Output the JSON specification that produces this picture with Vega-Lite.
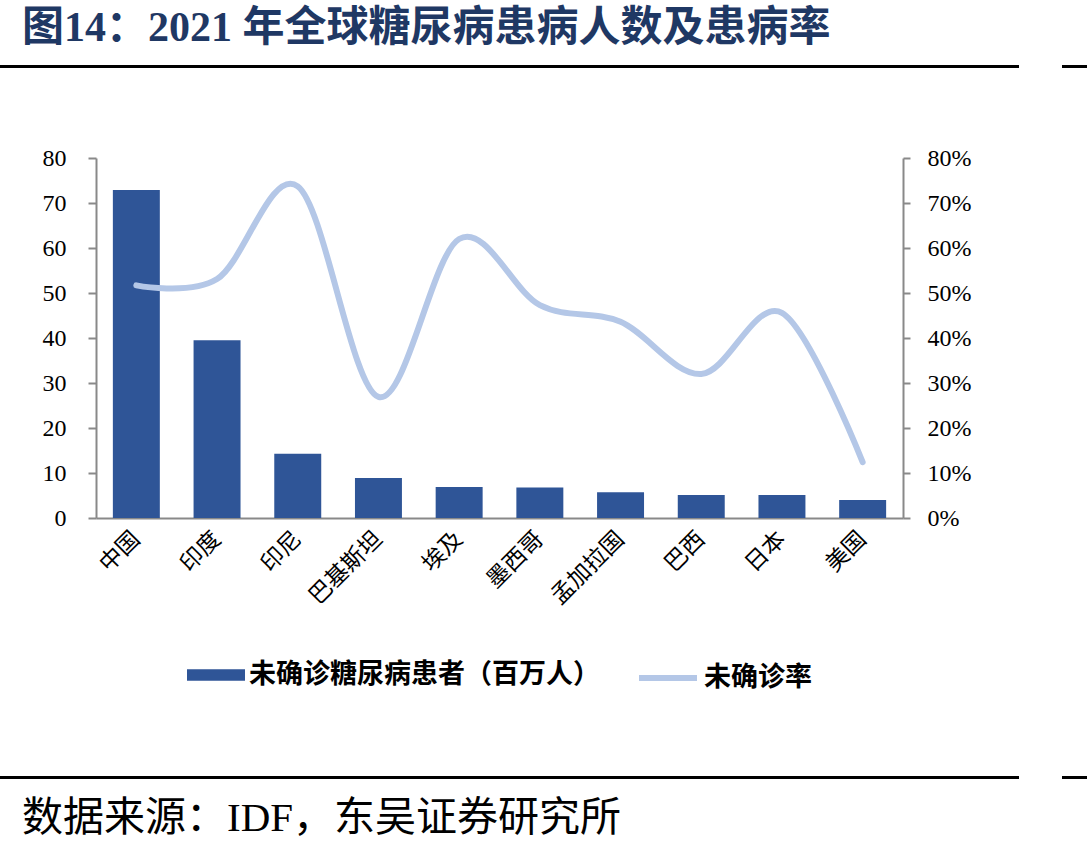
{
  "$schema": "https://vega.github.io/schema/vega-lite/v6.json",
  "background": "white",
  "padding": {"left": 0, "top": 6, "right": 0, "bottom": 0},
  "spacing": 73,
  "resolve": {"scale": {"color": "independent", "stroke": "independent"}},
  "config": {
    "view": {"stroke": null},
    "font": "Liberation Serif, Noto Sans CJK SC",
    "legend": {"layout": {"bottom": {"anchor": "middle", "direction": "horizontal", "margin": 36}}}
  },
  "vconcat": [
    {
      "title": {
        "text": "图14：2021 年全球糖尿病患病人数及患病率",
        "anchor": "start",
        "dx": 22,
        "font": "Liberation Serif, Noto Sans CJK SC",
        "fontSize": 42,
        "fontWeight": "bold",
        "color": "#1F3864",
        "offset": 10
      },
      "spacing": 43,
      "hconcat": [
        {
          "width": 1017,
          "height": 1,
          "view": {"stroke": "black", "strokeWidth": 2},
          "data": {"values": [{}]},
          "mark": {"type": "text", "text": ""},
          "encoding": {}
        },
        {
          "width": 27,
          "height": 1,
          "view": {"stroke": "black", "strokeWidth": 2},
          "data": {"values": [{}]},
          "mark": {"type": "text", "text": ""},
          "encoding": {}
        }
      ]
    },
    {
      "spacing": 0,
      "resolve": {"scale": {"color": "independent", "stroke": "independent"}},
      "hconcat": [
        {
          "width": 41,
          "height": 539,
          "data": {"values": [{}]},
          "mark": {"type": "text", "text": ""},
          "encoding": {}
        },
        {
          "width": 807,
          "height": 360,
          "data": {
            "values": [
              {"国家": "中国", "患者": 72.9, "未确诊率": 0.517},
              {"国家": "印度", "患者": 39.5, "未确诊率": 0.531},
              {"国家": "印尼", "患者": 14.3, "未确诊率": 0.737},
              {"国家": "巴基斯坦", "患者": 8.9, "未确诊率": 0.269},
              {"国家": "埃及", "患者": 6.9, "未确诊率": 0.62},
              {"国家": "墨西哥", "患者": 6.8, "未确诊率": 0.473},
              {"国家": "孟加拉国", "患者": 5.7, "未确诊率": 0.436},
              {"国家": "巴西", "患者": 5.1, "未确诊率": 0.32},
              {"国家": "日本", "患者": 5.1, "未确诊率": 0.456},
              {"国家": "美国", "患者": 4.0, "未确诊率": 0.124}
            ]
          },
          "encoding": {
            "x": {
              "field": "国家",
              "type": "nominal",
              "sort": null,
              "title": null,
              "scale": {"paddingInner": 0.418, "paddingOuter": 0.209},
              "axis": {
                "ticks": false,
                "domainColor": "#898989",
                "domainWidth": 2,
                "labelAngle": -45,
                "labelAlign": "right",
                "labelBaseline": "middle",
                "labelPadding": 17,
                "labelFont": "Noto Sans CJK SC",
                "labelFontSize": 23,
                "labelColor": "black"
              }
            }
          },
          "layer": [
            {
              "mark": {"type": "bar", "color": "#2F5597"},
              "encoding": {
                "y": {
                  "field": "患者",
                  "type": "quantitative",
                  "title": null,
                  "scale": {"domain": [0, 80], "nice": false},
                  "axis": {
                    "orient": "left",
                    "values": [0, 10, 20, 30, 40, 50, 60, 70, 80],
                    "grid": false,
                    "domainColor": "#898989",
                    "domainWidth": 2,
                    "tickColor": "#898989",
                    "tickWidth": 2,
                    "tickSize": 8,
                    "labelPadding": 22,
                    "labelFont": "Liberation Serif",
                    "labelFontSize": 24,
                    "labelColor": "black"
                  }
                },
                "color": {
                  "datum": "未确诊糖尿病患者（百万人）",
                  "scale": {"range": ["#2F5597"]},
                  "legend": {
                    "title": null,
                    "orient": "bottom",
                    "direction": "horizontal",
                    "offset": 37,
                    "padding": 0,
                    "symbolType": "M-1,-0.2H1V0.2H-1Z",
                    "symbolSize": 3364,
                    "symbolStrokeWidth": 0,
                    "labelFont": "Liberation Serif, Noto Sans CJK SC",
                    "labelFontSize": 27,
                    "labelFontWeight": "bold",
                    "labelColor": "black",
                    "labelOffset": 4,
                    "labelLimit": 500
                  }
                }
              }
            },
            {
              "mark": {
                "type": "line",
                "interpolate": "cardinal",
                "strokeWidth": 6,
                "strokeCap": "round"
              },
              "encoding": {
                "y": {
                  "field": "未确诊率",
                  "type": "quantitative",
                  "title": null,
                  "scale": {"domain": [0, 0.8], "nice": false},
                  "axis": {
                    "orient": "right",
                    "values": [0, 0.1, 0.2, 0.3, 0.4, 0.5, 0.6, 0.7, 0.8],
                    "format": ".0%",
                    "grid": false,
                    "domainColor": "#898989",
                    "domainWidth": 2,
                    "tickColor": "#898989",
                    "tickWidth": 2,
                    "tickSize": 7,
                    "labelPadding": 17,
                    "labelFont": "Liberation Serif",
                    "labelFontSize": 24,
                    "labelColor": "black"
                  }
                },
                "stroke": {
                  "datum": "未确诊率",
                  "scale": {"range": ["#B4C7E7"]},
                  "legend": {
                    "title": null,
                    "orient": "bottom",
                    "direction": "horizontal",
                    "offset": 37,
                    "padding": 0,
                    "symbolType": "stroke",
                    "symbolSize": 3364,
                    "symbolStrokeWidth": 6,
                    "labelFont": "Liberation Serif, Noto Sans CJK SC",
                    "labelFontSize": 27,
                    "labelFontWeight": "bold",
                    "labelColor": "black",
                    "labelOffset": 4,
                    "labelLimit": 500
                  }
                }
              }
            }
          ],
          "resolve": {"scale": {"y": "independent"}}
        }
      ]
    },
    {
      "title": {
        "text": "数据来源：IDF，东吴证券研究所",
        "orient": "bottom",
        "anchor": "start",
        "dx": 22,
        "font": "Liberation Serif, Noto Sans CJK SC",
        "fontSize": 41,
        "fontWeight": "normal",
        "color": "black",
        "offset": 15
      },
      "spacing": 43,
      "hconcat": [
        {
          "width": 1017,
          "height": 1,
          "view": {"stroke": "black", "strokeWidth": 2},
          "data": {"values": [{}]},
          "mark": {"type": "text", "text": ""},
          "encoding": {}
        },
        {
          "width": 27,
          "height": 1,
          "view": {"stroke": "black", "strokeWidth": 2},
          "data": {"values": [{}]},
          "mark": {"type": "text", "text": ""},
          "encoding": {}
        }
      ]
    }
  ]
}
